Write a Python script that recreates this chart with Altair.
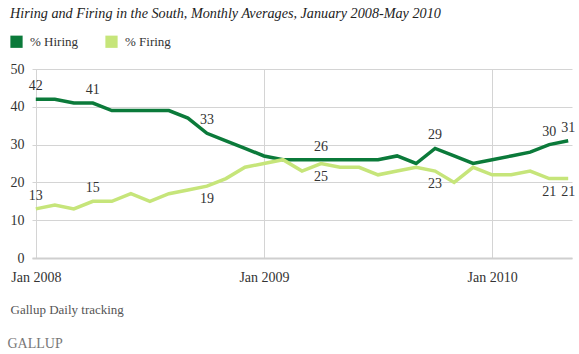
import altair as alt
import pandas as pd

series_names = ["% Hiring", "% Firing"]
series_colors = ["#0b7a3a", "#c6e57a"]

hiring = [42, 42, 41, 41, 39, 39, 39, 39, 37, 33, 31, 29,
          27, 26, 26, 26, 26, 26, 26, 27, 25, 29, 27, 25,
          26, 27, 28, 30, 31]
firing = [13, 14, 13, 15, 15, 17, 15, 17, 18, 19, 21, 24,
          25, 26, 23, 25, 24, 24, 22, 23, 24, 23, 20, 24,
          22, 22, 23, 21, 21]
labeled_months = [0, 3, 9, 15, 21, 27, 28]
firing_labels_above = [0, 3]
tick_months = [0, 12, 24]
tick_labels = ["Jan 2008", "Jan 2009", "Jan 2010"]
y_ticks = [0, 10, 20, 30, 40, 50]

rows = []
for i, v in enumerate(hiring):
    rows.append({"month": i, "value": v, "series": series_names[0]})
for i, v in enumerate(firing):
    rows.append({"month": i, "value": v, "series": series_names[1]})
df = pd.DataFrame(rows)
lab = df[df["month"].isin(labeled_months)]
above = lab[(lab["series"] == series_names[0]) |
            ((lab["series"] == series_names[1]) & lab["month"].isin(firing_labels_above))]
below = lab[(lab["series"] == series_names[1]) & ~lab["month"].isin(firing_labels_above)]

FONT = "Liberation Serif"

label_expr = "[" + ",".join("'%s'" % t for t in tick_labels) + "][datum.value/12]"

x = alt.X("month:Q",
          scale=alt.Scale(domain=[-0.2, 28.2], nice=False, zero=False),
          axis=alt.Axis(values=tick_months, labelExpr=label_expr,
                        title="Gallup Daily tracking", titleX=-22, titleY=51,
                        titleAnchor="start", titleAlign="left", titleBaseline="middle",
                        titleFont=FONT, titleFontSize=13, titleFontWeight="normal",
                        titleColor="#555555",
                        grid=True, gridColor="#d4d4d4", ticks=False,
                        domainColor="#cfcfcf", domainWidth=2,
                        labelFont=FONT, labelFontSize=14, labelColor="#333333",
                        labelPadding=12, labelFlush=False, labelOverlap=False))
y = alt.Y("value:Q",
          scale=alt.Scale(domain=[0, 50], nice=False),
          axis=alt.Axis(values=y_ticks, title="GALLUP", titleAngle=0, titleX=-25, titleY=274,
                        titleAlign="left", titleBaseline="middle", titleAnchor="start",
                        titleFont=FONT, titleFontSize=14, titleFontWeight="normal",
                        titleColor="#777777",
                        grid=True, gridColor="#d4d4d4",
                        ticks=False, domain=False, labelFont=FONT, labelFontSize=14,
                        labelColor="#333333", labelPadding=8, labelOverlap=False,
                        labelBound=False))
color = alt.Color("series:N",
                  scale=alt.Scale(domain=series_names, range=series_colors),
                  sort=series_names,
                  legend=alt.Legend(title=None, orient="none", legendX=-22, legendY=-34,
                                    direction="horizontal", symbolType="square",
                                    symbolSize=150, symbolStrokeWidth=0, symbolOpacity=1,
                                    labelFont=FONT, labelFontSize=13, labelColor="#333333",
                                    columnPadding=26, labelOffset=7))

legend_layer = alt.Chart(df).mark_point(filled=True, shape="square", opacity=0).encode(
    x=x, y=y, color=color)

lines = alt.Chart(df).mark_line(strokeWidth=3.5).encode(x=x, y=y, color=color)

labels_above = alt.Chart(above).mark_text(
    font=FONT, fontSize=14, color="#333333", dy=-13, baseline="middle").encode(
    x=x, y=y, text="value:Q")
labels_below = alt.Chart(below).mark_text(
    font=FONT, fontSize=14, color="#333333", dy=13, baseline="middle").encode(
    x=x, y=y, text="value:Q")

chart = alt.layer(legend_layer, lines, labels_above, labels_below).properties(
    width=540, height=189,
    title=alt.TitleParams("Hiring and Firing in the South, Monthly Averages, January 2008-May 2010",
                          anchor="start", frame="group", dx=-22, offset=14,
                          font=FONT, fontSize=14.2, fontStyle="italic", fontWeight="normal",
                          color="#222222"),
    padding={"left": 32, "top": 69, "right": 7, "bottom": 96},
    autosize=alt.AutoSizeParams(type="none"),
    background="white",
).configure_view(stroke=None)

chart.save("out.html", embed_options={"renderer": "svg", "actions": False})
